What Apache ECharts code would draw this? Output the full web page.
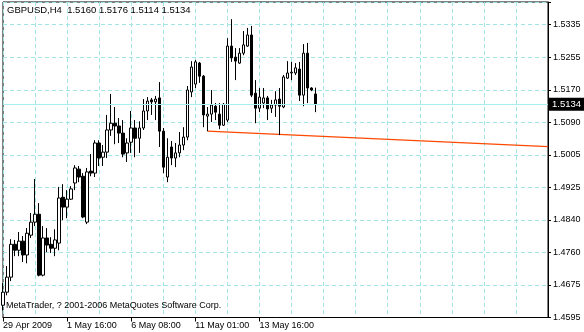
<!DOCTYPE html>
<html>
<head>
<meta charset="utf-8">
<script src="https://cdn.jsdelivr.net/npm/echarts@6/dist/echarts.min.js"></script>
<style>
html, body { margin: 0; padding: 0; background: #fff; }
#chart { width: 584px; height: 332px; }
</style>
</head>
<body>
<div id="chart"></div>
<script>
var symbolName = 'GBPUSD,H4';
var copyrightText = 'MetaTrader, ? 2001-2006 MetaQuotes Software Corp.';

// H4 bars, 29 Apr 2009 00:00 onwards
var openP = [1.4626, 1.4659, 1.4697, 1.4780, 1.4765, 1.4788, 1.4753, 1.4803, 1.4836, 1.4856,
	1.4702, 1.4796, 1.4780, 1.4770, 1.4783, 1.4899, 1.4874, 1.4894, 1.4935, 1.4970,
	1.4952, 1.4836, 1.4965, 1.4960, 1.5036, 1.5000, 1.5013, 1.5069, 1.5086, 1.5079,
	1.5061, 1.5011, 1.5038, 1.5074, 1.5048, 1.5074, 1.5117, 1.5145, 1.5140, 1.5150,
	1.5066, 1.4950, 1.5026, 1.4998, 1.5011, 1.5031, 1.5051, 1.5165, 1.5185, 1.5238,
	1.5205, 1.5104, 1.5109, 1.5129, 1.5109, 1.5081, 1.5094, 1.5281, 1.5253, 1.5238,
	1.5263, 1.5281, 1.5309, 1.5162, 1.5124, 1.5137, 1.5150, 1.5124, 1.5132, 1.5147,
	1.5127, 1.5200, 1.5213, 1.5213, 1.5223, 1.5157, 1.5263, 1.5175, 1.5160];
var closeP = [1.4659, 1.4697, 1.4780, 1.4765, 1.4788, 1.4753, 1.4808, 1.4836, 1.4856, 1.4702,
	1.4796, 1.4778, 1.4770, 1.4791, 1.4897, 1.4874, 1.4894, 1.4920, 1.4973, 1.4950,
	1.4849, 1.4963, 1.4960, 1.5036, 1.4998, 1.5013, 1.5069, 1.5086, 1.5079, 1.5061,
	1.5008, 1.5036, 1.5074, 1.5048, 1.5074, 1.5117, 1.5142, 1.5140, 1.5147, 1.5066,
	1.4975, 1.5000, 1.4998, 1.5011, 1.5031, 1.5051, 1.5170, 1.5228, 1.5241, 1.5205,
	1.5107, 1.5109, 1.5132, 1.5114, 1.5081, 1.5134, 1.5281, 1.5251, 1.5243, 1.5263,
	1.5284, 1.5309, 1.5157, 1.5124, 1.5152, 1.5150, 1.5122, 1.5132, 1.5145, 1.5129,
	1.5203, 1.5213, 1.5215, 1.5226, 1.5157, 1.5263, 1.5175, 1.5170, 1.5134];
var lowP = [1.4613, 1.4651, 1.4687, 1.4750, 1.4750, 1.4735, 1.4732, 1.4796, 1.4826, 1.4699,
	1.4699, 1.4760, 1.4758, 1.4750, 1.4765, 1.4841, 1.4846, 1.4892, 1.4917, 1.4937,
	1.4846, 1.4831, 1.4952, 1.4950, 1.4978, 1.4978, 1.4998, 1.5054, 1.5033, 1.5036,
	1.5000, 1.4988, 1.5011, 1.5000, 1.5011, 1.5069, 1.5094, 1.5107, 1.5094, 1.5026,
	1.4960, 1.4937, 1.4980, 1.4975, 1.5000, 1.5018, 1.5043, 1.5152, 1.5175, 1.5188,
	1.5076, 1.5066, 1.5089, 1.5094, 1.5071, 1.5079, 1.5089, 1.5241, 1.5195, 1.5236,
	1.5258, 1.5279, 1.5152, 1.5086, 1.5114, 1.5124, 1.5094, 1.5112, 1.5102, 1.5056,
	1.5124, 1.5198, 1.5195, 1.5208, 1.5142, 1.5129, 1.5137, 1.5167, 1.5114];
var highP = [1.4682, 1.4725, 1.4793, 1.4791, 1.4811, 1.4801, 1.4821, 1.4859, 1.4945, 1.4884,
	1.4826, 1.4821, 1.4798, 1.4818, 1.4925, 1.4932, 1.4917, 1.4927, 1.4980, 1.4978,
	1.4960, 1.4973, 1.5008, 1.5043, 1.5043, 1.5031, 1.5107, 1.5160, 1.5127, 1.5099,
	1.5094, 1.5048, 1.5117, 1.5094, 1.5091, 1.5147, 1.5152, 1.5150, 1.5155, 1.5190,
	1.5074, 1.5048, 1.5041, 1.5036, 1.5064, 1.5076, 1.5180, 1.5243, 1.5246, 1.5241,
	1.5208, 1.5127, 1.5170, 1.5137, 1.5137, 1.5137, 1.5301, 1.5349, 1.5276, 1.5276,
	1.5319, 1.5327, 1.5332, 1.5195, 1.5175, 1.5175, 1.5155, 1.5145, 1.5167, 1.5175,
	1.5208, 1.5243, 1.5241, 1.5238, 1.5241, 1.5286, 1.5289, 1.5177, 1.5176];

// time axis: bar slots incl. the empty space on the right
var slotCount = 137;
var timeLabelIdx = [0, 16, 32, 48, 64];
var timeLabels = ['29 Apr 2009', '1 May 16:00', '6 May 08:00', '11 May 01:00', '13 May 16:00'];

// price scale
var priceTicks = ['1.4595', '1.4675', '1.4760', '1.4840', '1.4925', '1.5005', '1.5090', '1.5170', '1.5255', '1.5335'];
var priceMin = 1.4595, priceStep = 0.074 / 9, priceMax = 1.53924;

// trend line (from bar 51 low to the right edge)
var trendIdx = [51, 136];
var trendVal = [1.5066, 1.5027];

var gridColor = '#a3e4e4';
var fontFam = '"Liberation Sans", Arial, sans-serif';

var slots = [];
for (var i = 0; i < slotCount; i++) slots.push(i);

var candles = [];
for (var i = 0; i < openP.length; i++) {
	candles.push([openP[i], closeP[i], lowP[i], highP[i]]);
}
var trendData = [];
for (var i = 0; i < trendIdx.length; i++) {
	trendData.push([trendIdx[i], trendVal[i]]);
}
var last = openP.length - 1;
var lastPrice = closeP[last];
var headerText = symbolName + '  ' + openP[last].toFixed(4) + ' ' + highP[last].toFixed(4) + ' ' +
	lowP[last].toFixed(4) + ' ' + closeP[last].toFixed(4);

function isTimeLabel(idx) {
	return timeLabelIdx.indexOf(idx) >= 0;
}

var chart = echarts.init(document.getElementById('chart'));
var option = {
	animation: false,
	backgroundColor: '#fff',
	grid: {
		left: 2, right: 36, top: 2, bottom: 14.5,
		show: true, borderColor: '#000', borderWidth: 1
	},
	xAxis: {
		type: 'category',
		data: slots,
		boundaryGap: false,
		axisLine: { lineStyle: { color: '#000', width: 1 } },
		axisTick: {
			length: 4,
			interval: function (idx) { return isTimeLabel(idx); },
			lineStyle: { color: '#000' }
		},
		axisLabel: {
			interval: function (idx) { return isTimeLabel(idx); },
			formatter: function (value, idx) {
				var k = timeLabelIdx.indexOf(idx);
				return k >= 0 ? timeLabels[k] : '';
			},
			align: 'left',
			margin: 4,
			color: '#000',
			fontSize: 9,
			fontFamily: fontFam
		},
		splitLine: {
			show: true,
			interval: 7,
			lineStyle: { color: gridColor, type: [4, 3] }
		}
	},
	yAxis: {
		type: 'value',
		position: 'right',
		min: priceMin,
		max: priceMax,
		interval: priceStep,
		axisLine: { show: true, lineStyle: { color: '#000' } },
		axisTick: { show: true, length: 3, lineStyle: { color: '#000' } },
		axisLabel: {
			formatter: function (v) {
				var k = Math.round((v - priceMin) / priceStep);
				if (Math.abs(v - (priceMin + k * priceStep)) > priceStep * 0.1) return '';
				return priceTicks[k] || '';
			},
			margin: 5,
			color: '#000',
			fontSize: 9,
			fontFamily: fontFam
		},
		splitLine: { lineStyle: { color: gridColor, type: [4, 3] } }
	},
	graphic: [
		{
			type: 'text', left: 7, top: 5, z: 100,
			style: { text: headerText, fill: '#000', font: '9.5px ' + fontFam }
		},
		{
			type: 'text', left: 6, top: 301, z: 100,
			style: { text: copyrightText, fill: '#000', font: '9px ' + fontFam }
		}
	],
	series: [
		{
			type: 'line',
			data: trendData,
			symbol: 'none',
			silent: true,
			z: 1,
			lineStyle: { color: '#ff4800', width: 1.2 },
			markLine: {
				silent: true,
				symbol: 'none',
				precision: 4,
				data: [{ yAxis: lastPrice }],
				lineStyle: { color: '#a8eeee', type: 'solid', width: 1 },
				label: {
					position: 'end',
					formatter: lastPrice.toFixed(4),
					backgroundColor: '#000',
					color: '#fff',
					padding: [2, 4, 1, 3],
					distance: 1,
					fontSize: 9.5,
					fontFamily: fontFam
				}
			}
		},
		{
			type: 'candlestick',
			data: candles,
			barWidth: 3,
			z: 3,
			itemStyle: {
				color: '#fff',
				color0: '#000',
				borderColor: '#000',
				borderColor0: '#000',
				borderWidth: 1
			}
		}
	]
};
chart.setOption(option);
</script>
</body>
</html>
